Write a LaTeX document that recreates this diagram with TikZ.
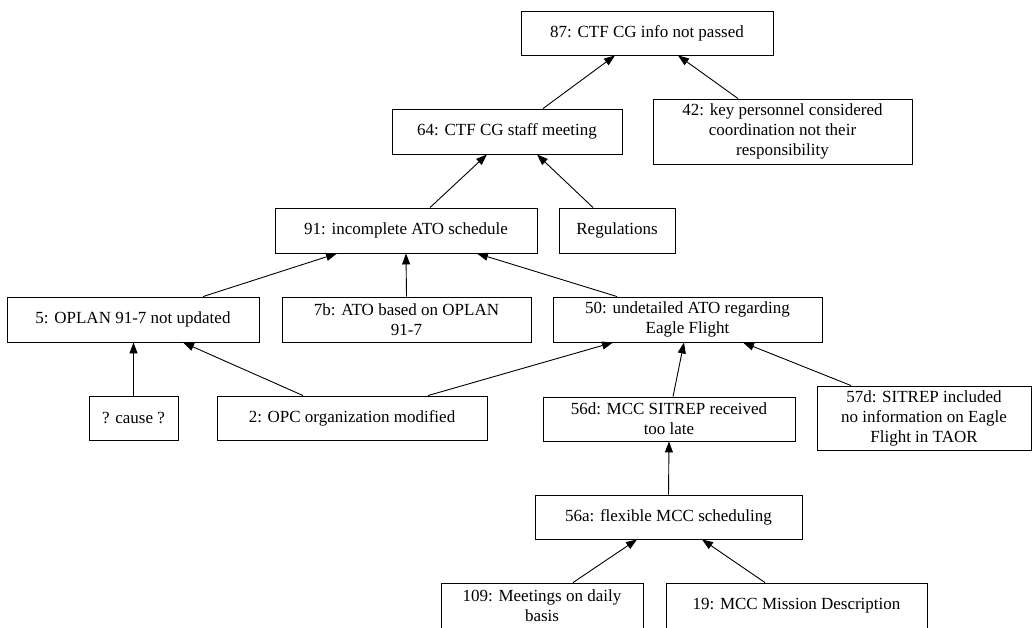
\documentclass[tikz,border=0pt]{standalone}
\usepackage{fontspec}
\setmainfont{Liberation Serif}
\usetikzlibrary{arrows.meta}
\begin{document}
\begin{tikzpicture}[x=1pt,y=-1pt,
  box/.style={draw, line width=0.9pt, inner sep=0pt, align=center,
    font=\fontsize{17}{20}\selectfont},
  edge/.style={line width=0.9pt, -{Triangle[length=11pt,width=8pt]}}]
\useasboundingbox (0,0) rectangle (1032,627);
\node[box, minimum width=252pt, minimum height=44pt] (n87) at (647,33) {87: CTF CG info not passed};
\node[box, minimum width=230pt, minimum height=45pt] (n64) at (507,131.5) {64: CTF CG staff meeting};
\node[box, minimum width=259pt, minimum height=65pt] (n42) at (782.5,131.5) {42: key personnel considered\\coordination not their\\responsibility};
\node[box, minimum width=262pt, minimum height=45pt] (n91) at (406,230.5) {91: incomplete ATO schedule};
\node[box, minimum width=116pt, minimum height=45pt] (reg) at (617,230.5) {Regulations};
\node[box, minimum width=252pt, minimum height=45pt] (n5) at (133,319.5) {5: OPLAN 91-7 not updated};
\node[box, minimum width=249pt, minimum height=45pt] (n7b) at (406.5,319.5) {7b: ATO based on OPLAN\\91-7};
\node[box, minimum width=269pt, minimum height=45pt] (n50) at (687.5,319.5) {50: undetailed ATO regarding\\Eagle Flight};
\node[box, minimum width=89pt, minimum height=44pt] (cause) at (133.5,418) {? cause ?};
\node[box, minimum width=270pt, minimum height=44pt] (n2) at (352,418) {2: OPC organization modified};
\node[box, minimum width=252pt, minimum height=44pt] (n56d) at (669,419) {56d: MCC SITREP received\\too late};
\node[box, minimum width=214pt, minimum height=64pt] (n57d) at (924,418) {57d: SITREP included\\no information on Eagle\\Flight in TAOR};
\node[box, minimum width=267pt, minimum height=44pt] (n56a) at (668.5,517) {56a: flexible MCC scheduling};
\node[box, minimum width=202pt, minimum height=46pt] (n109) at (542,606) {109: Meetings on daily\\basis};
\node[box, minimum width=261pt, minimum height=46pt] (n19) at (796.5,606) {19: MCC Mission Description};
\draw[edge] ([xshift=36pt]n64.north) -- ([xshift=-32pt]n87.south);
\draw[edge] ([xshift=-44.5pt]n42.north) -- ([xshift=31pt]n87.south);
\draw[edge] ([xshift=24pt]n91.north) -- ([xshift=-20pt]n64.south);
\draw[edge] ([xshift=-24pt]reg.north) -- ([xshift=30pt]n64.south);
\draw[edge] ([xshift=70pt]n5.north) -- ([xshift=-69pt]n91.south);
\draw[edge] (n7b.north) -- (n91.south);
\draw[edge] ([xshift=-70.5pt]n50.north) -- ([xshift=71pt]n91.south);
\draw[edge] (cause.north) -- (cause.north |- n5.south);
\draw[edge] ([xshift=-49pt]n2.north) -- ([xshift=50pt]n5.south);
\draw[edge] ([xshift=76pt]n2.north) -- ([xshift=-74.5pt]n50.south);
\draw[edge] ([xshift=4pt]n56d.north) -- ([xshift=-3.5pt]n50.south);
\draw[edge] ([xshift=-73pt]n57d.north) -- ([xshift=55.5pt]n50.south);
\draw[edge] (n56a.north) -- (n56d.south);
\draw[edge] ([xshift=31pt]n109.north) -- ([xshift=-31.5pt]n56a.south);
\draw[edge] ([xshift=-31.5pt]n19.north) -- ([xshift=33.5pt]n56a.south);
\end{tikzpicture}
\end{document}
